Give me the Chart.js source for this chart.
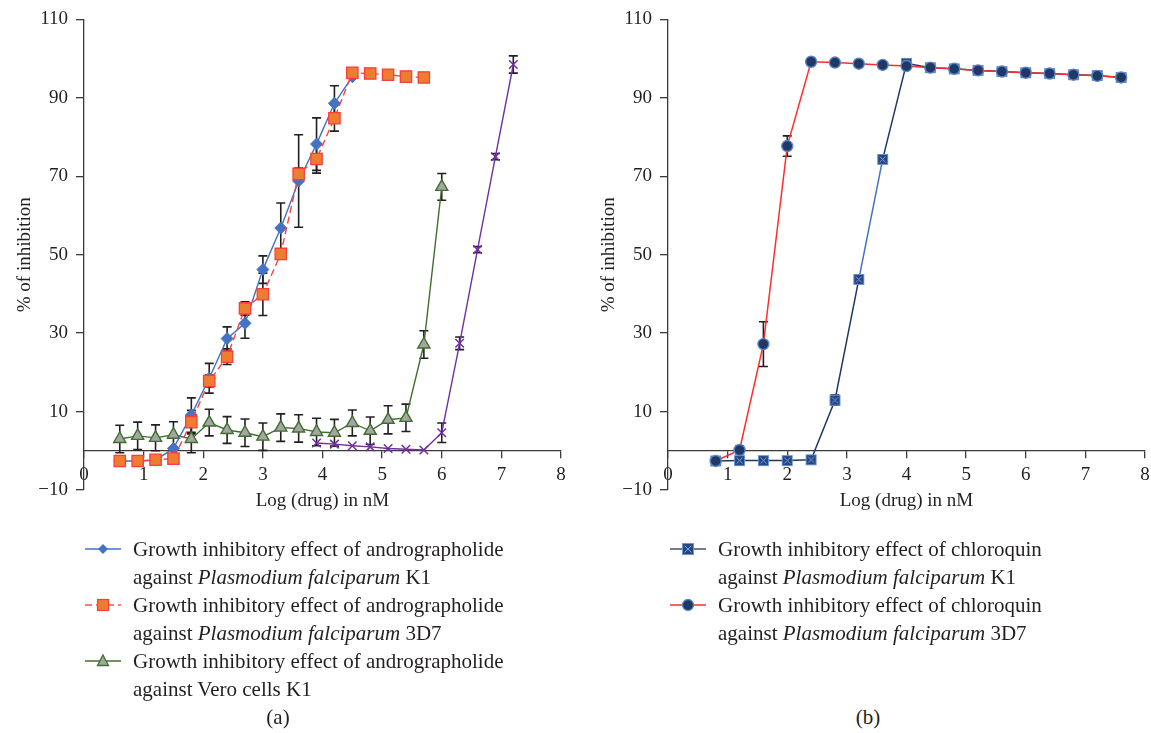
<!DOCTYPE html>
<html>
<head>
<meta charset="utf-8">
<script src="https://cdn.jsdelivr.net/npm/chart.js@4.4.1/dist/chart.umd.min.js"></script>
<style>
  body { margin: 0; background: #fff; width: 1151px; height: 733px; position: relative; overflow: hidden;
         font-family: "Liberation Serif", "Times New Roman", serif; color: #231f20; }
  .box { position: absolute; top: 0; width: 575px; height: 554px; }
  #boxA { left: 0; }
  #boxB { left: 584px; }
  .legend { position: absolute; font-size: 21px; line-height: 28px; }
  .legend .item { position: relative; padding-left: 48px; }
  .legend svg { position: absolute; left: 0; top: 0; }
  .caption { position: absolute; top: 705px; font-size: 21px; width: 60px; margin-left: -30px; text-align: center; }
</style>
</head>
<body>
<div class="box" id="boxA"><canvas id="chartA" width="575" height="554"></canvas></div>
<div class="box" id="boxB"><canvas id="chartB" width="575" height="554"></canvas></div>

<div class="legend" style="left:85px; top:535px;">
  <div class="item">
    <svg width="36" height="28"><line x1="0" y1="14" x2="36" y2="14" stroke="#4472c4" stroke-width="1.5"/>
      <polygon points="18,9 23,14 18,19 13,14" fill="#4472c4"/></svg>
    Growth inhibitory effect of andrographolide<br>against <i>Plasmodium falciparum</i> K1
  </div>
  <div class="item">
    <svg width="36" height="28"><line x1="0" y1="14" x2="36" y2="14" stroke="#ff5050" stroke-width="1.5" stroke-dasharray="7,4"/>
      <rect x="12.5" y="8.5" width="11" height="11" fill="#ed7d31" stroke="#ff3b3b" stroke-width="1.2"/></svg>
    Growth inhibitory effect of andrographolide<br>against <i>Plasmodium falciparum</i> 3D7
  </div>
  <div class="item">
    <svg width="36" height="28"><line x1="0" y1="14" x2="36" y2="14" stroke="#3f6f2e" stroke-width="1.5"/>
      <polygon points="18,8 23.5,18.5 12.5,18.5" fill="#a5a5a5" stroke="#3f6f2e" stroke-width="1.3"/></svg>
    Growth inhibitory effect of andrographolide<br>against Vero cells K1
  </div>
</div>

<div class="legend" style="left:670px; top:535px;">
  <div class="item">
    <svg width="36" height="28"><line x1="0" y1="14" x2="36" y2="14" stroke="#44546a" stroke-width="1.5"/>
      <rect x="12.5" y="8.5" width="11" height="11" fill="#25467f" stroke="#6b93d6" stroke-width="1"/>
      <path d="M14.5 10.5 L21.5 17.5 M21.5 10.5 L14.5 17.5" stroke="#7fa3e0" stroke-width="1"/></svg>
    Growth inhibitory effect of chloroquin<br>against <i>Plasmodium falciparum</i> K1
  </div>
  <div class="item">
    <svg width="36" height="28"><line x1="0" y1="14" x2="36" y2="14" stroke="#ff2d2d" stroke-width="1.5"/>
      <circle cx="18" cy="14" r="5.5" fill="#1f3864" stroke="#5b84c8" stroke-width="1.3"/></svg>
    Growth inhibitory effect of chloroquin<br>against <i>Plasmodium falciparum</i> 3D7
  </div>
</div>

<div class="caption" style="left:278px;">(a)</div>
<div class="caption" style="left:868px;">(b)</div>

<script>
// ── Data ───────────────────────────────────────────────────────────────────
var Y_TICKS = [-10, 10, 30, 50, 70, 90, 110];

// (a) andrographolide
var andK1_x   = [0.6, 0.9, 1.2, 1.5, 1.8, 2.1, 2.4, 2.7, 3.0, 3.3, 3.6, 3.9, 4.2, 4.5];
var andK1_y   = [-2.6, -2.6, -2.4, 0.6, 9.1, 18.5, 28.6, 32.5, 46.2, 56.8, 68.8, 78.2, 88.6, 95.4];
var andK1_err = [0, 0, 0, 0, 4.4, 3.8, 3.0, 3.8, 3.5, 6.4, 11.8, 6.7, 4.5, 0];

var and3D7_x   = [0.6, 0.9, 1.2, 1.5, 1.8, 2.1, 2.4, 2.7, 3.0, 3.3, 3.6, 3.9, 4.2, 4.5, 4.8, 5.1, 5.4, 5.7];
var and3D7_y   = [-2.6, -2.6, -2.3, -2.0, 7.3, 17.8, 24.0, 36.3, 39.9, 50.2, 70.6, 74.4, 84.8, 96.4, 96.2, 95.9, 95.4, 95.2];
var and3D7_err = [0, 0, 0, 0, 3.0, 1.5, 2.0, 1.7, 5.4, 1.0, 1.5, 3.6, 3.3, 0, 0, 0, 0, 0];

var vero_x   = [0.6, 0.9, 1.2, 1.5, 1.8, 2.1, 2.4, 2.7, 3.0, 3.3, 3.6, 3.9, 4.2, 4.5, 4.8, 5.1, 5.4, 5.7, 6.0];
var vero_y   = [3.0, 3.8, 3.3, 4.1, 3.0, 7.2, 5.3, 4.6, 3.6, 5.9, 5.7, 4.8, 4.6, 7.1, 5.1, 7.9, 8.4, 27.1, 67.3];
var vero_err = [3.5, 3.5, 3.3, 3.3, 3.5, 3.4, 3.4, 3.5, 3.5, 3.5, 3.5, 3.5, 3.4, 3.3, 3.5, 3.6, 3.5, 3.5, 3.4];

var verop_x   = [3.9, 4.2, 4.5, 4.8, 5.1, 5.4, 5.7, 6.0, 6.3, 6.6, 6.9, 7.2];
var verop_y   = [2.0, 1.7, 1.3, 1.0, 0.6, 0.4, 0.2, 4.6, 27.4, 51.3, 75.0, 98.5];
var verop_err = [0, 0, 0, 0, 0, 0, 0, 2.5, 1.6, 0.8, 0.8, 2.2];

// (b) chloroquin
var chq_x      = [0.8, 1.2, 1.6, 2.0, 2.4, 2.8, 3.2, 3.6, 4.0, 4.4, 4.8, 5.2, 5.6, 6.0, 6.4, 6.8, 7.2, 7.6];
var chqK1_y    = [-2.6, -2.5, -2.5, -2.5, -2.3, 12.9, 43.7, 74.3, 98.8, 97.7, 97.4, 97.0, 96.7, 96.4, 96.2, 95.9, 95.7, 95.2];
var chqK1_err  = [0, 0, 0, 0, 0, 1.3, 0.8, 0.8, 0.5, 0, 0, 0, 0, 0, 0, 0, 0, 0];
var chq3D7_y   = [-2.6, 0.2, 27.2, 77.7, 99.2, 99.0, 98.7, 98.4, 98.1, 97.7, 97.4, 97.0, 96.7, 96.4, 96.2, 95.9, 95.6, 95.2];
var chq3D7_err = [0, 1.0, 5.7, 2.6, 0, 0, 0, 0, 0, 0, 0, 0, 0, 0, 0, 0, 0, 0];

// ── Helpers ────────────────────────────────────────────────────────────────
var INK  = '#231f20';
var AXIS = '#3a3a3a';

Chart.defaults.font.family = '"Liberation Serif", "Times New Roman", serif';
Chart.defaults.font.size = 19;
Chart.defaults.color = INK;

function pts(xs, ys) {
  return xs.map(function (x, i) { return { x: x, y: ys[i] }; });
}

function marker(size, draw) {
  var c = document.createElement('canvas');
  c.width = c.height = size;
  draw(c.getContext('2d'), size);
  return c;
}

var squareX = marker(13, function (g, s) {
  g.fillStyle = '#25467f';
  g.fillRect(1, 1, s - 2, s - 2);
  g.strokeStyle = '#6b93d6';
  g.lineWidth = 1;
  g.strokeRect(1.5, 1.5, s - 3, s - 3);
  g.strokeStyle = '#7fa3e0';
  g.beginPath();
  g.moveTo(3.5, 3.5); g.lineTo(s - 3.5, s - 3.5);
  g.moveTo(s - 3.5, 3.5); g.lineTo(3.5, s - 3.5);
  g.stroke();
});

var errorBars = {
  id: 'errorBars',
  beforeDatasetsDraw: function (chart) {
    var ctx = chart.ctx, xs = chart.scales.x, ys = chart.scales.y;
    chart.data.datasets.forEach(function (ds) {
      if (!ds.errors) { return; }
      ctx.save();
      ctx.strokeStyle = INK;
      ctx.lineWidth = 1.6;
      ds.data.forEach(function (p, i) {
        var e = ds.errors[i];
        if (!e) { return; }
        var px = xs.getPixelForValue(p.x);
        var top = ys.getPixelForValue(p.y + e);
        var bot = ys.getPixelForValue(p.y - e);
        ctx.beginPath();
        ctx.moveTo(px, top); ctx.lineTo(px, bot);
        ctx.moveTo(px - 4.5, top); ctx.lineTo(px + 4.5, top);
        ctx.moveTo(px - 4.5, bot); ctx.lineTo(px + 4.5, bot);
        ctx.stroke();
      });
      ctx.restore();
    });
  }
};

function makeChart(id, datasets) {
  return new Chart(document.getElementById(id), {
    type: 'line',
    data: { datasets: datasets },
    options: {
      responsive: false,
      animation: false,
      layout: { padding: { top: 17, right: 14, left: 0, bottom: 64 } },
      plugins: { legend: { display: false }, tooltip: { enabled: false } },
      elements: { line: { tension: 0 } },
      scales: {
        x: {
          type: 'linear',
          position: { y: 0 },
          min: 0, max: 8,
          ticks: { stepSize: 1, padding: 6, color: INK },
          grid: { drawOnChartArea: false, tickLength: 7, color: AXIS, lineWidth: 1.3 },
          border: { color: AXIS, width: 1.3 },
          title: { display: true, text: 'Log (drug) in nM', color: INK, padding: { top: 0, bottom: 2 } },
          afterFit: function (s) { s.height = 64; }
        },
        y: {
          type: 'linear',
          min: -10, max: 110,
          afterBuildTicks: function (s) { s.ticks = Y_TICKS.map(function (v) { return { value: v }; }); },
          ticks: { padding: 8, color: INK, callback: function (v) { return String(v).replace('-', '\u2212'); } },
          grid: { drawOnChartArea: false, tickLength: 8, color: AXIS, lineWidth: 1.3 },
          border: { color: AXIS, width: 1.3 },
          title: { display: true, text: '% of inhibition', color: INK, padding: { top: 14, bottom: 0 } },
          afterFit: function (s) { s.width = 84; }
        }
      }
    },
    plugins: [errorBars]
  });
}

// ── (a) andrographolide ────────────────────────────────────────────────────
makeChart('chartA', [
  {
    data: pts(and3D7_x, and3D7_y), errors: and3D7_err, order: 1,
    borderColor: '#ff4040', borderWidth: 1.4, borderDash: [7, 4],
    pointStyle: 'rect', pointRadius: 8, pointBackgroundColor: '#ed7d31',
    pointBorderColor: '#ff3b3b', pointBorderWidth: 1.3
  },
  {
    data: pts(andK1_x, andK1_y), errors: andK1_err, order: 2,
    borderColor: '#4472c4', borderWidth: 1.4,
    pointStyle: 'rectRot', pointRadius: 6, pointBackgroundColor: '#4472c4',
    pointBorderColor: '#4472c4', pointBorderWidth: 1
  },
  {
    data: pts(verop_x, verop_y), errors: verop_err, order: 3,
    borderColor: '#7030a0', borderWidth: 1.4,
    pointStyle: 'crossRot', pointRadius: 6, pointBorderColor: '#7030a0', pointBorderWidth: 1.5
  },
  {
    data: pts(vero_x, vero_y), errors: vero_err, order: 4,
    borderColor: '#3f6f2e', borderWidth: 1.4,
    pointStyle: 'triangle', pointRadius: 7, pointBackgroundColor: '#a5a5a5',
    pointBorderColor: '#3f6f2e', pointBorderWidth: 1.4
  }
]);

// ── (b) chloroquin ─────────────────────────────────────────────────────────
makeChart('chartB', [
  {
    data: pts(chq_x, chq3D7_y), errors: chq3D7_err, order: 1,
    borderColor: '#ff2d2d', borderWidth: 1.5,
    pointStyle: 'circle', pointRadius: 5.5, pointBackgroundColor: '#1f3864',
    pointBorderColor: '#5b84c8', pointBorderWidth: 1.4
  },
  {
    data: pts(chq_x, chqK1_y), errors: chqK1_err, order: 2,
    borderColor: '#203864', borderWidth: 1.5,
    segment: { borderColor: function (c) { return c.p0DataIndex === 6 ? '#4472c4' : '#203864'; } },
    pointStyle: squareX, pointRadius: 6
  }
]);
</script>
</body>
</html>
